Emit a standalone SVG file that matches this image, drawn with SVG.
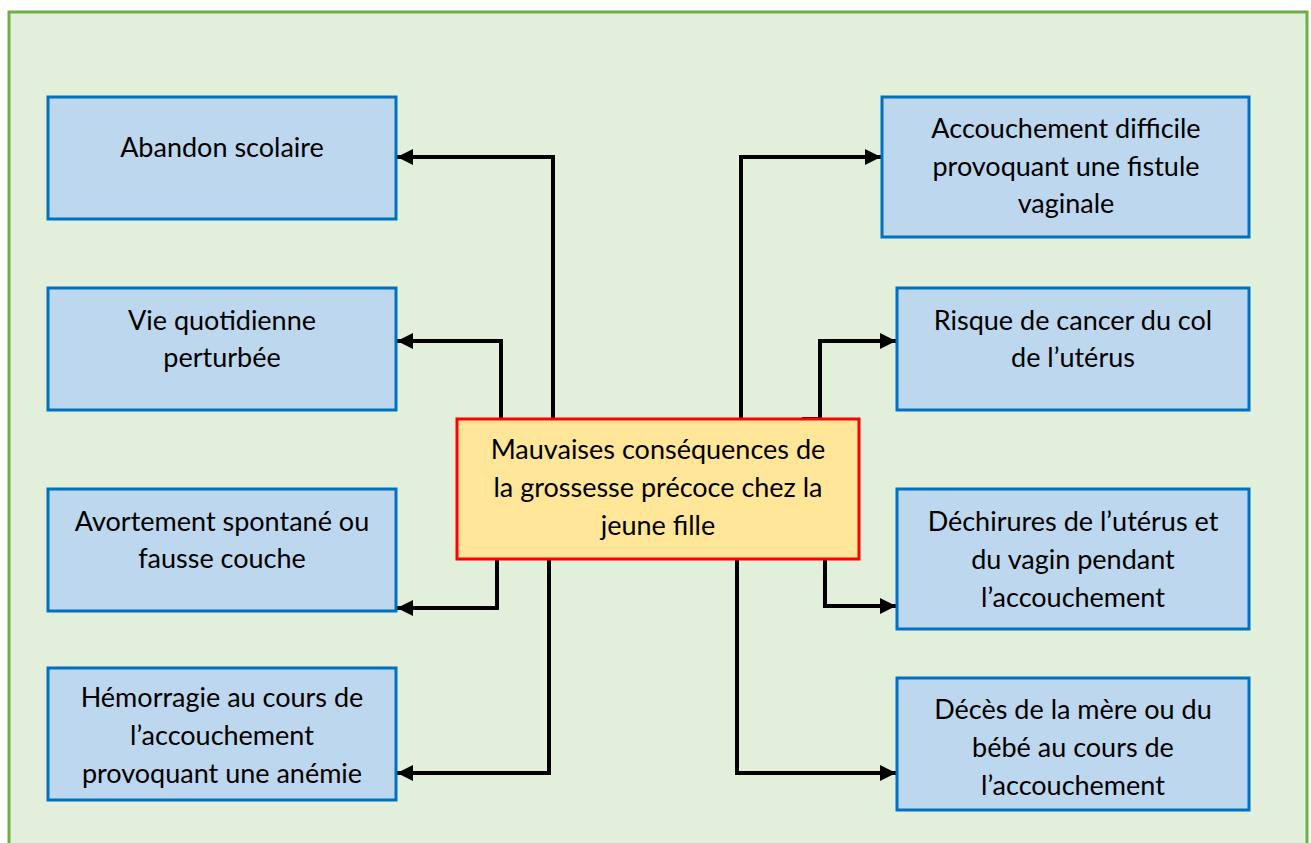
<svg xmlns="http://www.w3.org/2000/svg" width="1311" height="843" viewBox="0 0 1311 843">
<style>
.bg{fill:#E2EFDA;stroke:#70AD47;stroke-width:3}
.box{fill:#BDD7EE;stroke:#0070C0;stroke-width:3}
.main{fill:#FFE699;stroke:#FF0000;stroke-width:3}
text{font-family:Lato,"Open Sans",sans-serif;font-size:27px;fill:#000;text-anchor:middle}
.c{fill:none;stroke:#000;stroke-width:4;stroke-linejoin:miter}
</style>
<defs>
<marker id="ah" viewBox="0 0 10 10" refX="10" refY="5" markerWidth="4" markerHeight="4" markerUnits="strokeWidth" orient="auto">
<path d="M0,0 L10,5 L0,10 Z" fill="#000"/>
</marker>
</defs>
<rect class="bg" x="9" y="12" width="1298" height="840"/>
<g id="connectors">
<path class="c" d="M553,419 V157 H397" marker-end="url(#ah)"/>
<path class="c" d="M501,419 V341 H397" marker-end="url(#ah)"/>
<path class="c" d="M497,559 V608 H397" marker-end="url(#ah)"/>
<path class="c" d="M549,559 V773 H397" marker-end="url(#ah)"/>
<path class="c" d="M741,419 V157 H881" marker-end="url(#ah)"/>
<path class="c" d="M802,419 H820 V341 H896" marker-end="url(#ah)"/>
<path class="c" d="M825,559 V606 H896" marker-end="url(#ah)"/>
<path class="c" d="M737,559 V773 H896" marker-end="url(#ah)"/>
</g>
<g id="center">
<rect class="main" x="457" y="419" width="402" height="140"/>
<text x="658" y="459">Mauvaises conséquences de</text>
<text x="658" y="497">la grossesse précoce chez la</text>
<text x="658" y="535">jeune fille</text>
</g>
<g id="n1">
<rect class="box" x="48" y="97" width="348" height="122"/>
<text x="222" y="157">Abandon scolaire</text>
</g>
<g id="n2">
<rect class="box" x="48" y="288" width="348" height="122"/>
<text x="222" y="330">Vie quotidienne</text>
<text x="222" y="367">perturbée</text>
</g>
<g id="n3">
<rect class="box" x="48" y="489" width="348" height="122"/>
<text x="222" y="531">Avortement spontané ou</text>
<text x="222" y="568">fausse couche</text>
</g>
<g id="n4">
<rect class="box" x="48" y="668" width="348" height="132"/>
<text x="222" y="707">Hémorragie au cours de</text>
<text x="222" y="745">l’accouchement</text>
<text x="222" y="783">provoquant une anémie</text>
</g>
<g id="n5">
<rect class="box" x="882" y="97" width="367" height="140"/>
<text x="1066" y="138">Accouchement difficile</text>
<text x="1066" y="176">provoquant une fistule</text>
<text x="1066" y="213">vaginale</text>
</g>
<g id="n6">
<rect class="box" x="897" y="288" width="352" height="122"/>
<text x="1073" y="330">Risque de cancer du col</text>
<text x="1073" y="367">de l’utérus</text>
</g>
<g id="n7">
<rect class="box" x="897" y="489" width="352" height="140"/>
<text x="1073" y="531">Déchirures de l’utérus et</text>
<text x="1073" y="569">du vagin pendant</text>
<text x="1073" y="607">l’accouchement</text>
</g>
<g id="n8">
<rect class="box" x="897" y="678" width="352" height="132"/>
<text x="1073" y="719">Décès de la mère ou du</text>
<text x="1073" y="757">bébé au cours de</text>
<text x="1073" y="795">l’accouchement</text>
</g>
</svg>
